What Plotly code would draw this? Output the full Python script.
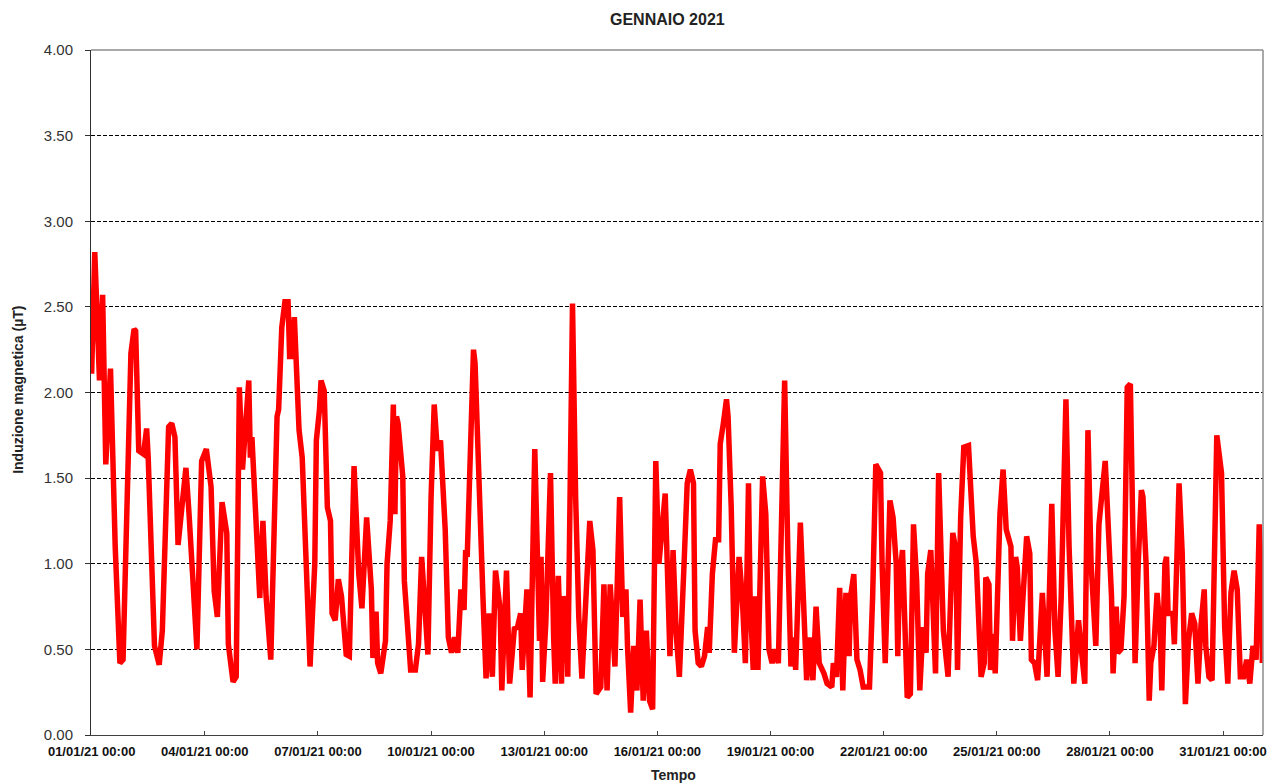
import pandas as pd
import plotly.graph_objects as go

# Hours elapsed since 01/01/21 00:00 and magnetic induction values (µT)
hours = [
    0, 2, 5, 7, 9, 12, 15, 18, 20, 24, 25, 27, 28, 30, 33, 35, 36, 40, 43, 45, 47, 49, 51, 53, 55, 58, 60, 62, 64, 67,
    70, 73, 76, 78, 80, 83, 86, 87, 90, 92,
    94, 96, 100, 101, 102, 104, 107, 109, 111, 114, 116, 118, 119, 121, 123, 125, 126, 127, 129, 130, 132, 134, 136,
    137, 139, 142, 143, 145, 146, 148, 150, 152, 153, 155, 157, 159, 162, 164, 167, 170, 172, 175, 178, 179, 181, 182, 184,
    187, 188, 190, 192, 193, 194, 195, 198, 199, 201, 203, 206, 208, 210, 212, 214, 216, 218, 220, 222, 225, 227, 229,
    231, 233, 235, 237, 238, 239, 241, 243, 244, 247, 249, 251, 253, 255, 257, 260, 261, 264, 266, 269, 271, 273, 274,
    277, 279,
    282, 285, 286, 287, 289, 292, 294, 295, 297, 299, 300, 302, 303, 306, 308, 310, 312, 315, 317, 319, 321, 324, 326,
    328, 330, 333, 336, 338, 340, 341, 343, 345, 347, 349, 351, 353, 355, 357, 359, 361, 365, 368, 370, 372, 374,
    377, 379, 381, 383, 384, 386, 388, 390, 392, 393, 395, 397, 399, 400, 402, 404, 405, 407, 409, 411, 412, 414, 416,
    418, 419, 421, 422, 424, 427, 429, 431, 433, 435, 437, 441, 443, 445, 447, 448, 451, 453, 455, 457, 459, 461, 463, 466,
    468, 471, 472, 474, 476, 477, 478, 480, 482, 483, 485, 487, 489, 491, 495, 497, 498, 499, 502, 503, 505, 506, 508,
    510, 512, 513, 514, 516, 517, 519, 521, 523, 525, 527, 529, 531, 532, 534, 537, 539, 542, 545, 548, 550, 551, 553,
    555, 558,
    561, 563, 566, 568, 569, 571, 572, 574, 575, 578, 580, 582, 585, 586, 588, 589, 591, 595, 597, 598, 600, 602, 605,
    607, 608, 611, 613, 615, 617, 620, 622, 625, 628, 630, 632, 634, 636, 639, 641, 645, 647, 649, 650, 652, 653,
    655, 657, 659, 661, 662, 664, 666, 668, 669, 671, 673, 674, 676, 678, 680, 681, 683, 684, 685, 688, 689, 690, 692,
    694, 696, 698, 700, 702, 704, 706, 708, 709, 711, 713, 716, 719, 721, 723, 725, 727, 729, 731, 733, 735, 737, 739,
    741, 743, 744, 745,
]
values = [
    2.11, 2.82, 2.07, 2.57, 1.58, 2.14, 1.10, 0.42, 0.44, 2.17, 2.23, 2.37, 2.36, 1.66, 1.64, 1.79, 1.62, 0.52, 0.41, 0.61,
    1.20, 1.80, 1.82, 1.74, 1.11, 1.41, 1.56, 1.29, 1.02, 0.50, 1.60, 1.67, 1.45, 0.84, 0.69, 1.36, 1.18, 0.53, 0.31, 0.34,
    2.03, 1.55, 2.07, 1.62, 1.74, 1.39, 0.80, 1.25, 0.81, 0.44, 1.31, 1.86, 1.90, 2.38, 2.53, 2.53, 2.21, 2.21, 2.44, 2.21,
    1.78, 1.62, 1.14, 1.00, 0.40, 1.00, 1.72, 1.90, 2.07, 2.01, 1.33, 1.25, 0.71, 0.67, 0.91, 0.81, 0.47, 0.46, 1.57, 0.94,
    0.74, 1.27, 0.85, 0.45, 0.72, 0.42, 0.36,
    0.55, 1.00, 1.25, 1.93, 1.29, 1.86, 1.82, 1.51, 0.90, 0.67, 0.38, 0.38, 0.53, 1.04, 0.75, 0.47, 1.39, 1.93, 1.66, 1.72,
    1.20, 0.57, 0.48, 0.57, 0.48, 0.85, 0.73, 1.08, 1.04, 1.78, 2.25, 2.17, 1.20, 0.81, 0.33, 0.71, 0.34, 0.96, 0.73, 0.26,
    0.96, 0.30, 0.62, 0.63, 0.71, 0.38, 0.85, 0.22,
    1.67, 0.55, 1.04, 0.31, 0.65, 1.53, 0.57, 0.30, 0.93, 0.30, 0.81, 0.73, 0.34, 2.52, 1.39, 0.69, 0.33, 0.90, 1.25, 1.08,
    0.24, 0.28, 0.88, 0.26, 0.88, 0.40, 1.39, 0.69, 0.85, 0.52, 0.13, 0.52, 0.26, 0.79, 0.20, 0.61, 0.20, 0.15, 1.60, 1.00,
    1.41, 0.46, 1.08, 0.59, 0.34,
    1.00, 1.47, 1.55, 1.47, 0.61, 0.42, 0.40, 0.46, 0.63, 0.48, 0.94, 1.14, 1.14, 1.70, 1.82, 1.96, 1.86, 1.33, 0.48, 1.00,
    1.04, 0.81, 0.42, 1.47, 0.81, 0.38, 0.81, 0.38, 1.51, 1.29, 0.50, 0.42, 0.50, 0.42, 2.07, 1.08, 0.40, 0.57, 0.38, 1.24,
    0.81, 0.32, 0.57, 0.32, 0.75, 0.42, 0.36,
    0.30, 0.28, 0.42, 0.34, 0.86, 0.61, 0.26, 0.83, 0.46, 0.81, 0.94, 0.44, 0.38, 0.28, 0.28, 0.81, 1.20, 1.58, 1.53, 1.00,
    0.42, 0.81, 1.37, 1.27, 1.00, 0.46, 0.90, 1.08, 0.81, 0.22, 0.24, 1.23, 0.90, 0.26, 0.63, 0.48, 0.94, 1.08, 0.36, 1.53,
    0.61, 0.34, 1.18, 1.08, 0.38, 1.27, 1.68, 1.69,
    1.16, 1.00, 0.34, 0.42, 0.92, 0.88, 0.38, 0.59, 0.36, 1.29, 1.55, 1.20, 1.10, 0.55, 1.04, 0.98, 0.55, 1.16, 1.06, 0.44,
    0.42, 0.32, 0.83, 0.44, 0.34, 1.35, 0.61, 0.34, 0.81, 1.96, 1.10, 0.30, 0.67, 0.48, 0.30, 1.78, 1.00, 0.52, 1.23, 1.60,
    1.16, 0.81, 0.36, 0.75, 0.48,
    0.50, 0.81, 2.03, 2.05, 1.39, 0.42, 1.00, 1.43, 1.39, 1.00, 0.20, 0.42, 0.52, 0.83, 0.61, 0.26, 1.00, 1.04, 0.71, 0.71,
    0.53, 0.94, 1.47, 1.06, 0.18, 0.55, 0.71, 0.65, 0.30, 0.65, 0.85, 0.52, 0.34, 0.32, 1.75, 1.53, 0.63, 0.30, 0.83, 0.96,
    0.85, 0.34, 0.34, 0.44, 0.30, 0.52, 0.44, 1.23, 1.00, 0.42,
]

title_text = "GENNAIO 2021"
y_title = "Induzione magnetica (µT)"
x_title = "Tempo"

start = pd.Timestamp("2021-01-01 00:00")
times = start + pd.to_timedelta(hours, unit="h")

FONT = "Arial, 'Liberation Sans', sans-serif"

fig = go.Figure(
    go.Scatter(x=times, y=values, mode="lines",
               line=dict(color="#FF0000", width=5.5), hoverinfo="skip")
)

# page body has an 8px margin, so the figure is sized/offset to compensate
fig.update_layout(
    width=1271, height=776,
    margin=dict(l=83, r=14, t=42, b=49),
    plot_bgcolor="white", paper_bgcolor="white",
    showlegend=False,
    font=dict(family=FONT, color="#222"),
)

fig.update_xaxes(
    type="date",
    range=[start - pd.Timedelta(hours=0.4), start + pd.Timedelta(hours=745.4)],
    tick0=start, dtick=3 * 86400000, tickformat="%d/%m/%y %H:%M",
    ticks="inside", ticklen=4, tickcolor="#404040",
    showline=True, linecolor="#404040", linewidth=1,
    showgrid=False, zeroline=False, ticklabelstandoff=4,
    tickfont=dict(family=FONT, size=13, color="#111", weight="bold"),
)

fig.update_yaxes(
    range=[0, 4], dtick=0.5, tick0=0, tickformat=".2f",
    ticks="outside", ticklen=5, tickcolor="#303030",
    showline=True, linecolor="#303030", linewidth=1,
    showgrid=True, gridcolor="#000000", gridwidth=1, griddash="4px,2px",
    zeroline=False, ticklabelstandoff=9,
    tickfont=dict(family=FONT, size=15, color="#333"),
)

fig.add_shape(type="line", xref="paper", yref="paper", x0=0, x1=1, y0=1, y1=1,
              line=dict(color="#8c8c8c", width=1.5), layer="above")
fig.add_shape(type="line", xref="paper", yref="paper", x0=1, x1=1, y0=0, y1=1,
              line=dict(color="#8c8c8c", width=1.5), layer="above")

fig.add_annotation(text=f"<b>{title_text}</b>", xref="paper", yref="paper",
                   x=0.4915, y=1.044, showarrow=False, xanchor="center", yanchor="middle",
                   font=dict(family=FONT, size=16, color="#222"))
fig.add_annotation(text=f"<b>{y_title}</b>", xref="paper", yref="paper",
                   x=-0.0622, y=0.504, showarrow=False, xanchor="center", yanchor="middle",
                   textangle=-90, font=dict(family=FONT, size=14, color="#222"))
fig.add_annotation(text=f"<b>{x_title}</b>", xref="paper", yref="paper",
                   x=0.497, y=-0.058, showarrow=False, xanchor="center", yanchor="middle",
                   font=dict(family=FONT, size=14, color="#222"))

fig.write_html("out.html")
